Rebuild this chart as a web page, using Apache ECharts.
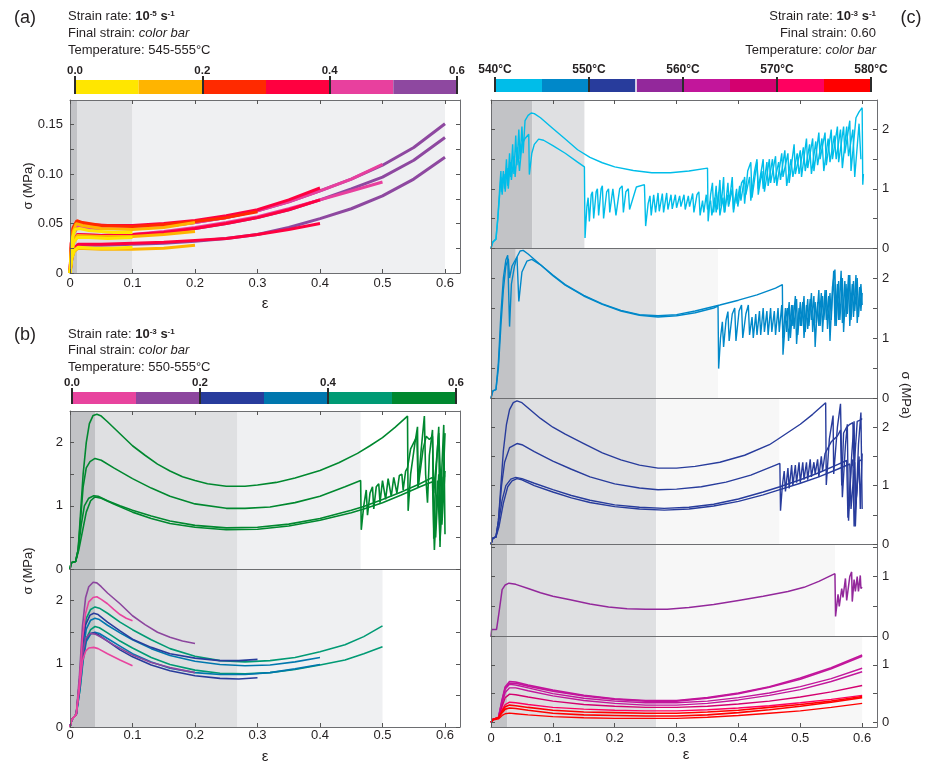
<!DOCTYPE html>
<html><head><meta charset="utf-8">
<script src="https://cdn.jsdelivr.net/npm/echarts/dist/echarts.min.js"></script>
<style>html,body{margin:0;padding:0;background:#fff}#c{width:932px;height:763px}</style>
</head><body><div id="c"></div>
<script>
// ---------------- DATA ----------------
const xTicks = [0,0.1,0.2,0.3,0.4,0.5,0.6];
const yTicksA = [0,0.025,0.05,0.075,0.1,0.125,0.15];
const yLabelsA = [0,0.05,0.1,0.15];
const yTicks25 = [0,0.5,1,1.5,2];
const yLabels2 = [0,1,2];
const yTicks15 = [0,0.5,1,1.5];
const yTicks10 = [0,0.5,1];
const yLabels1 = [0,1];
const cbStrainTicks = [0,0.2,0.4,0.6];
const cbTempTicks = [540,550,560,570,580];
const cbStrainBounds = [0,0.1,0.2,0.3,0.4,0.5,0.6];
const cbTempBounds = [540,545,550,555,560,565,570,575,580];
const cbTempGaps = [555];

// shaded strain regimes (boundaries)
const shadeA = [0,0.012,0.1,0.6];
const shadeB1 = [0,0.04,0.268,0.465];
const shadeB2 = [0,0.04,0.268,0.5];
const shadeC1 = [0,0.067,0.151];
const shadeC2 = [0,0.04,0.267,0.367];
const shadeC3 = [0,0.04,0.267,0.466];
const shadeC4 = [0,0.026,0.267,0.556];
const shadeC5 = [0,0.026,0.267,0.6];

// Panel (a): strain rate 1e-5, final strains 0.1..0.6
const aY1 = [[0,0],[0.002,0.02],[0.004,0.035],[0.008,0.044],[0.015,0.045],[0.03,0.043],[0.05,0.042],[0.07,0.041],[0.1,0.041]];
const aY2 = [[0,0],[0.003,0.02],[0.006,0.031],[0.012,0.036],[0.03,0.036],[0.06,0.035],[0.1,0.036]];
const aY3 = [[0,0],[0.003,0.015],[0.007,0.023],[0.013,0.026],[0.04,0.025],[0.07,0.025],[0.1,0.026]];
const aO1 = [[0,0],[0.002,0.025],[0.005,0.042],[0.01,0.05],[0.02,0.048],[0.05,0.045],[0.1,0.044],[0.15,0.046],[0.2,0.051]];
const aO2 = [[0,0],[0.003,0.015],[0.007,0.022],[0.013,0.025],[0.05,0.024],[0.1,0.024],[0.15,0.025],[0.2,0.028]];
const aO3 = [[0,0],[0.003,0.022],[0.006,0.033],[0.012,0.038],[0.05,0.037],[0.1,0.037],[0.15,0.039],[0.2,0.042]];
const aR1 = [[0,0],[0.002,0.03],[0.005,0.046],[0.011,0.053],[0.02,0.051],[0.05,0.048],[0.1,0.047],[0.15,0.049],[0.2,0.052],[0.25,0.056],[0.3,0.062]];
const aC1 = [[0,0],[0.002,0.03],[0.005,0.045],[0.011,0.051],[0.03,0.049],[0.06,0.048],[0.1,0.048],[0.15,0.05],[0.2,0.053],[0.25,0.058],[0.3,0.064],[0.35,0.074],[0.4,0.086]];
const aC2 = [[0,0],[0.003,0.015],[0.007,0.025],[0.013,0.029],[0.05,0.029],[0.1,0.03],[0.15,0.031],[0.2,0.033],[0.25,0.035],[0.3,0.039],[0.35,0.044],[0.4,0.05]];
const aC3 = [[0,0],[0.003,0.02],[0.006,0.033],[0.012,0.039],[0.05,0.038],[0.1,0.039],[0.15,0.041],[0.2,0.045],[0.25,0.05],[0.3,0.056],[0.35,0.064],[0.4,0.074]];
const aP1 = [[0,0],[0.002,0.025],[0.005,0.04],[0.012,0.047],[0.05,0.045],[0.1,0.045],[0.15,0.047],[0.2,0.051],[0.25,0.056],[0.3,0.063],[0.35,0.072],[0.4,0.083],[0.45,0.095],[0.5,0.11]];
const aP2 = [[0,0],[0.003,0.02],[0.006,0.033],[0.012,0.039],[0.05,0.038],[0.1,0.039],[0.15,0.042],[0.2,0.046],[0.25,0.051],[0.3,0.057],[0.35,0.065],[0.4,0.074],[0.45,0.083],[0.5,0.092]];
const aU1 = [[0,0],[0.002,0.025],[0.005,0.04],[0.012,0.046],[0.05,0.045],[0.1,0.045],[0.15,0.047],[0.2,0.051],[0.25,0.056],[0.3,0.063],[0.35,0.072],[0.4,0.083],[0.45,0.095],[0.5,0.109],[0.55,0.127],[0.6,0.151]];
const aU2 = [[0,0],[0.003,0.02],[0.006,0.032],[0.012,0.038],[0.05,0.037],[0.1,0.038],[0.15,0.041],[0.2,0.045],[0.25,0.05],[0.3,0.056],[0.35,0.064],[0.4,0.074],[0.45,0.085],[0.5,0.097],[0.55,0.114],[0.6,0.137]];
const aU3 = [[0,0],[0.003,0.015],[0.007,0.024],[0.013,0.028],[0.05,0.028],[0.1,0.029],[0.15,0.03],[0.2,0.032],[0.25,0.035],[0.3,0.039],[0.35,0.046],[0.4,0.055],[0.45,0.065],[0.5,0.078],[0.55,0.095],[0.6,0.117]];

// Panel (b) upper: final strain 0.6
const bG1 = [[0,0],[0.002,0.1],[0.009,0.12],[0.013,0.3],[0.017,0.9],[0.021,1.5],[0.026,2.0],[0.031,2.3],[0.037,2.43],[0.043,2.45],[0.05,2.42],[0.06,2.33],[0.08,2.14],[0.1,1.95],[0.12,1.8],[0.14,1.66],[0.16,1.55],[0.18,1.46],[0.2,1.4],[0.22,1.35],[0.25,1.31],[0.28,1.31],[0.3,1.33],[0.33,1.37],[0.36,1.44],[0.4,1.56],[0.43,1.68],[0.46,1.83],[0.48,1.95],[0.5,2.08],[0.52,2.24],[0.54,2.42],[0.541,0.92],[0.545,1.5],[0.552,2.0],[0.556,2.25],[0.557,1.3],[0.562,1.9],[0.567,2.42],[0.569,1.5],[0.572,1.05],[0.575,1.8],[0.58,2.2],[0.582,0.48],[0.585,1.4],[0.59,2.25],[0.592,0.35],[0.595,1.6],[0.598,2.28],[0.6,0.55]];
const bG2 = [[0,0],[0.002,0.1],[0.009,0.12],[0.013,0.3],[0.017,0.8],[0.021,1.3],[0.026,1.6],[0.032,1.7],[0.04,1.75],[0.05,1.72],[0.07,1.6],[0.1,1.43],[0.13,1.28],[0.16,1.15],[0.2,1.03],[0.25,0.96],[0.28,0.96],[0.32,0.98],[0.36,1.05],[0.4,1.15],[0.44,1.3],[0.465,1.4],[0.466,0.62],[0.47,1.0],[0.474,1.25],[0.476,0.85],[0.48,1.2],[0.484,1.3],[0.486,0.95],[0.49,1.3],[0.494,1.35],[0.496,1.05],[0.5,1.4],[0.503,1.43],[0.505,1.1],[0.509,1.43],[0.512,1.45],[0.514,1.15],[0.518,1.45],[0.521,1.46],[0.523,1.2],[0.527,1.48],[0.531,1.5],[0.533,1.25],[0.537,1.55],[0.54,1.6],[0.545,1.9],[0.55,2.0],[0.555,2.1],[0.557,1.3],[0.565,1.9],[0.57,2.1],[0.575,2.05],[0.58,2.1],[0.582,1.2],[0.59,2.15],[0.595,0.9],[0.6,2.15]];
const bG3 = [[0,0],[0.002,0.1],[0.009,0.12],[0.013,0.3],[0.018,0.7],[0.023,1.0],[0.03,1.12],[0.038,1.16],[0.045,1.15],[0.06,1.08],[0.08,1.0],[0.1,0.93],[0.13,0.84],[0.16,0.76],[0.2,0.69],[0.25,0.65],[0.3,0.66],[0.35,0.71],[0.4,0.8],[0.45,0.93],[0.47,0.99],[0.5,1.1],[0.53,1.22],[0.56,1.35],[0.58,1.45],[0.585,0.5],[0.59,1.5],[0.595,0.7],[0.6,1.55]];
const bG4 = [[0,0],[0.002,0.1],[0.009,0.12],[0.014,0.3],[0.02,0.6],[0.026,0.9],[0.033,1.08],[0.04,1.14],[0.05,1.12],[0.07,1.03],[0.1,0.9],[0.13,0.8],[0.16,0.72],[0.2,0.66],[0.25,0.62],[0.3,0.63],[0.35,0.68],[0.4,0.77],[0.45,0.89],[0.47,0.95],[0.5,1.05],[0.53,1.17],[0.56,1.3],[0.58,1.38],[0.583,0.3],[0.588,1.4],[0.592,0.45],[0.597,1.45],[0.6,1.48]];

// Panel (b) lower: final strains 0.1..0.5
const bPink1 = [[0,0],[0.003,0.12],[0.01,0.2],[0.015,0.7],[0.02,1.4],[0.025,1.8],[0.03,1.98],[0.037,2.05],[0.043,2.06],[0.05,2.02],[0.06,1.95],[0.07,1.86],[0.08,1.78],[0.09,1.72],[0.1,1.68]];
const bPink2 = [[0,0],[0.003,0.12],[0.01,0.2],[0.015,0.6],[0.02,1.05],[0.025,1.2],[0.03,1.25],[0.038,1.26],[0.045,1.24],[0.06,1.16],[0.08,1.06],[0.1,0.97]];
const bPurp1 = [[0,0],[0.003,0.12],[0.01,0.2],[0.015,0.8],[0.02,1.6],[0.025,2.05],[0.03,2.22],[0.037,2.29],[0.043,2.28],[0.05,2.22],[0.06,2.12],[0.08,1.95],[0.1,1.76],[0.12,1.62],[0.14,1.5],[0.16,1.42],[0.18,1.36],[0.2,1.32]];
const bPurp2 = [[0,0],[0.003,0.12],[0.01,0.2],[0.015,0.65],[0.02,1.15],[0.025,1.4],[0.032,1.48],[0.04,1.47],[0.05,1.42],[0.07,1.3],[0.1,1.14],[0.13,1.02],[0.16,0.94],[0.2,0.86]];
const bNavy1 = [[0,0],[0.003,0.12],[0.01,0.2],[0.015,0.7],[0.02,1.3],[0.025,1.62],[0.032,1.77],[0.038,1.8],[0.045,1.78],[0.06,1.66],[0.08,1.52],[0.1,1.39],[0.13,1.26],[0.16,1.16],[0.2,1.09],[0.24,1.05],[0.27,1.05],[0.3,1.07]];
const bNavy2 = [[0,0],[0.003,0.12],[0.01,0.2],[0.015,0.6],[0.02,1.1],[0.025,1.38],[0.032,1.48],[0.038,1.49],[0.045,1.46],[0.06,1.36],[0.08,1.22],[0.1,1.11],[0.13,0.98],[0.16,0.89],[0.2,0.81],[0.24,0.77],[0.27,0.76],[0.3,0.78]];
const bBlue1 = [[0,0],[0.003,0.12],[0.01,0.2],[0.016,0.7],[0.021,1.2],[0.026,1.55],[0.033,1.69],[0.04,1.72],[0.047,1.7],[0.06,1.61],[0.08,1.49],[0.1,1.38],[0.13,1.24],[0.16,1.13],[0.2,1.04],[0.24,0.99],[0.28,0.97],[0.32,0.98],[0.36,1.03],[0.4,1.1]];
const bBlue2 = [[0,0],[0.003,0.12],[0.01,0.2],[0.016,0.6],[0.021,1.05],[0.026,1.35],[0.033,1.47],[0.04,1.5],[0.047,1.48],[0.06,1.4],[0.08,1.28],[0.1,1.16],[0.13,1.03],[0.16,0.93],[0.2,0.86],[0.24,0.83],[0.28,0.83],[0.32,0.86],[0.36,0.92],[0.4,0.99]];
const bTeal1 = [[0,0],[0.003,0.12],[0.01,0.2],[0.016,0.8],[0.021,1.4],[0.026,1.72],[0.033,1.86],[0.04,1.9],[0.047,1.88],[0.06,1.8],[0.08,1.66],[0.1,1.54],[0.13,1.38],[0.16,1.24],[0.2,1.12],[0.24,1.05],[0.28,1.03],[0.32,1.05],[0.36,1.1],[0.4,1.19],[0.44,1.3],[0.47,1.43],[0.5,1.6]];
const bTeal2 = [[0,0],[0.003,0.12],[0.01,0.2],[0.016,0.6],[0.021,1.1],[0.026,1.4],[0.033,1.54],[0.04,1.59],[0.047,1.57],[0.06,1.49],[0.08,1.36],[0.1,1.25],[0.13,1.1],[0.16,0.99],[0.2,0.9],[0.24,0.85],[0.28,0.84],[0.32,0.86],[0.36,0.91],[0.4,0.98],[0.44,1.06],[0.47,1.16],[0.5,1.27]];

// Panel (c): final strain 0.6, temperatures 540..580
const c1A = [[0,0],[0.003,0.1],[0.008,0.15],[0.011,0.5],[0.014,1.0],[0.016,1.3],[0.017,0.95],[0.02,1.3],[0.022,1.0],[0.025,1.5],[0.027,1.05],[0.03,1.6],[0.032,1.2],[0.035,1.75],[0.037,1.25],[0.04,1.9],[0.042,1.4],[0.045,2.0],[0.047,1.5],[0.05,2.05],[0.052,1.6],[0.055,2.15],[0.06,2.24],[0.065,2.28],[0.07,2.27],[0.08,2.2],[0.1,2.02],[0.12,1.84],[0.14,1.66],[0.16,1.53],[0.18,1.44],[0.2,1.37],[0.23,1.31],[0.26,1.27],[0.29,1.27],[0.32,1.3],[0.35,1.35],[0.351,0.45],[0.355,0.9],[0.358,1.1],[0.36,0.6],[0.364,1.05],[0.366,0.65],[0.37,1.15],[0.372,0.7],[0.376,1.2],[0.378,0.6],[0.383,1.1],[0.385,0.75],[0.39,1.2],[0.392,0.65],[0.397,1.0],[0.399,0.7],[0.405,1.1],[0.408,1.15],[0.41,0.75],[0.415,1.3],[0.42,1.45],[0.422,0.85],[0.43,1.45],[0.432,1.0],[0.44,1.5],[0.442,0.95],[0.45,1.5],[0.452,1.1],[0.46,1.55],[0.462,1.05],[0.47,1.6],[0.472,1.2],[0.48,1.6],[0.482,1.1],[0.49,1.75],[0.492,1.25],[0.5,1.65],[0.502,1.2],[0.51,1.85],[0.512,1.35],[0.52,1.85],[0.522,1.3],[0.53,1.95],[0.532,1.5],[0.54,1.95],[0.542,1.4],[0.55,2.0],[0.552,1.5],[0.56,2.05],[0.562,1.45],[0.57,2.05],[0.572,1.6],[0.58,2.15],[0.582,1.3],[0.59,2.2],[0.595,2.3],[0.6,2.37],[0.601,1.07],[0.602,1.25]];
const c1B = [[0,0],[0.003,0.1],[0.008,0.15],[0.011,0.5],[0.014,0.9],[0.016,1.2],[0.018,0.9],[0.021,1.25],[0.023,0.95],[0.026,1.35],[0.028,1.0],[0.031,1.45],[0.033,1.15],[0.037,1.55],[0.039,1.2],[0.043,1.7],[0.046,1.3],[0.05,1.75],[0.055,1.85],[0.061,1.92],[0.062,1.24],[0.066,1.6],[0.07,1.75],[0.077,1.84],[0.085,1.82],[0.1,1.73],[0.12,1.6],[0.14,1.45],[0.151,1.37],[0.152,0.17],[0.155,0.7],[0.157,0.85],[0.159,0.45],[0.162,0.9],[0.164,0.95],[0.166,0.5],[0.17,0.95],[0.172,1.0],[0.174,0.55],[0.178,1.0],[0.18,1.05],[0.182,0.5],[0.187,0.95],[0.19,1.0],[0.192,0.6],[0.197,1.0],[0.2,1.02],[0.202,0.55],[0.208,1.0],[0.212,1.05],[0.214,0.6],[0.218,0.95],[0.222,1.0],[0.224,0.65],[0.235,1.03],[0.248,1.07],[0.25,0.37],[0.254,0.75],[0.257,0.88],[0.259,0.55],[0.263,0.9],[0.266,0.6],[0.27,0.93],[0.272,0.62],[0.277,0.92],[0.279,0.6],[0.284,0.93],[0.286,0.65],[0.291,0.9],[0.293,0.66],[0.298,0.9],[0.3,0.68],[0.305,0.88],[0.307,0.7],[0.312,0.9],[0.314,0.65],[0.319,0.88],[0.321,0.7],[0.326,0.92],[0.328,0.6],[0.333,0.9],[0.336,0.95],[0.338,0.55],[0.342,0.8],[0.344,0.6],[0.348,0.9],[0.35,0.65],[0.355,0.8],[0.357,0.55],[0.362,0.85],[0.364,0.6],[0.368,0.95],[0.37,0.55],[0.375,0.85],[0.377,0.6],[0.382,0.9],[0.384,0.7],[0.39,1.0],[0.392,0.6],[0.396,0.9],[0.398,0.75],[0.402,1.05],[0.404,0.8],[0.41,1.2],[0.412,0.9],[0.418,1.2],[0.42,0.8],[0.426,1.3],[0.43,1.5],[0.432,0.9],[0.438,1.3],[0.44,1.0],[0.446,1.45],[0.448,1.05],[0.455,1.5],[0.458,1.1],[0.465,1.45],[0.468,1.15],[0.475,1.65],[0.478,1.05],[0.485,1.5],[0.488,1.2],[0.495,1.6],[0.498,1.25],[0.505,1.7],[0.508,1.3],[0.515,1.75],[0.518,1.25],[0.525,1.8],[0.528,1.4],[0.535,1.85],[0.538,1.3],[0.545,1.85],[0.548,1.45],[0.555,1.9],[0.558,1.5],[0.565,2.0],[0.568,1.35],[0.575,2.05],[0.578,1.55],[0.585,2.0],[0.588,1.2],[0.595,2.1],[0.598,1.5]];
const c2A = [[0,0],[0.003,0.12],[0.008,0.14],[0.012,0.6],[0.016,1.4],[0.02,2.0],[0.024,2.3],[0.027,2.38],[0.03,1.19],[0.033,1.9],[0.038,2.2],[0.042,2.35],[0.047,2.45],[0.052,2.46],[0.06,2.4],[0.08,2.22],[0.1,2.04],[0.12,1.88],[0.15,1.7],[0.18,1.56],[0.21,1.45],[0.24,1.38],[0.27,1.35],[0.3,1.37],[0.33,1.42],[0.36,1.5],[0.367,1.53],[0.368,0.49],[0.371,1.0],[0.374,1.27],[0.376,0.85],[0.38,1.3],[0.383,1.44],[0.385,0.95],[0.39,1.4],[0.394,1.5],[0.396,0.95],[0.401,1.45],[0.405,1.55],[0.407,1.0],[0.412,1.4],[0.416,1.55],[0.418,1.05],[0.422,1.35],[0.424,1.0],[0.428,1.4],[0.43,1.05],[0.434,1.45],[0.436,1.05],[0.44,1.5],[0.442,1.1],[0.446,1.45],[0.448,1.05],[0.452,1.5],[0.454,1.1],[0.458,1.45],[0.46,1.05],[0.464,1.5],[0.466,1.1],[0.47,1.55],[0.472,1.0],[0.476,1.5],[0.478,1.1],[0.482,1.6],[0.484,1.0],[0.488,1.55],[0.49,1.15],[0.494,1.65],[0.496,1.05],[0.5,1.6],[0.502,1.2],[0.506,1.7],[0.508,1.1],[0.512,1.65],[0.514,1.2],[0.518,1.75],[0.52,1.1],[0.524,1.6],[0.526,1.25],[0.53,1.8],[0.532,1.2],[0.536,1.7],[0.538,1.3],[0.542,1.8],[0.544,1.15],[0.548,1.75],[0.55,1.3],[0.554,2.12],[0.556,1.2],[0.56,1.9],[0.562,1.3],[0.566,2.12],[0.568,1.25],[0.572,1.95],[0.574,1.35],[0.578,2.05],[0.58,1.2],[0.584,1.9],[0.586,1.35],[0.59,2.05],[0.592,1.25],[0.596,1.85],[0.598,1.45],[0.6,1.75]];
const c2B = [[0,0],[0.003,0.12],[0.008,0.14],[0.012,0.5],[0.016,1.2],[0.02,1.8],[0.024,2.2],[0.028,2.32],[0.03,2.0],[0.034,2.2],[0.042,2.35],[0.045,1.61],[0.05,2.1],[0.058,2.28],[0.066,2.31],[0.08,2.22],[0.1,2.05],[0.12,1.89],[0.15,1.71],[0.18,1.57],[0.21,1.46],[0.24,1.39],[0.27,1.37],[0.3,1.39],[0.33,1.45],[0.37,1.55],[0.4,1.63],[0.43,1.72],[0.46,1.83],[0.471,1.89],[0.472,0.72],[0.476,1.3],[0.479,1.5],[0.481,0.95],[0.486,1.55],[0.488,1.2],[0.492,1.7],[0.494,0.9],[0.498,1.5],[0.5,1.2],[0.504,1.6],[0.506,1.0],[0.51,1.55],[0.512,1.15],[0.516,1.65],[0.518,1.3],[0.522,1.7],[0.524,0.85],[0.528,1.6],[0.53,1.2],[0.534,1.75],[0.536,1.1],[0.54,1.8],[0.542,1.3],[0.546,1.7],[0.548,0.95],[0.552,1.85],[0.556,2.14],[0.558,1.2],[0.562,1.95],[0.564,1.3],[0.568,2.0],[0.57,1.1],[0.574,1.9],[0.576,1.4],[0.58,2.05],[0.582,1.3],[0.586,1.95],[0.588,1.45],[0.592,2.0],[0.594,1.35],[0.598,1.9],[0.6,1.55]];
const c3A = [[0,0],[0.003,0.1],[0.008,0.12],[0.012,0.4],[0.016,1.0],[0.02,1.6],[0.025,2.05],[0.03,2.3],[0.036,2.42],[0.042,2.45],[0.05,2.42],[0.06,2.33],[0.08,2.15],[0.1,2.0],[0.12,1.88],[0.15,1.72],[0.18,1.56],[0.21,1.44],[0.24,1.35],[0.27,1.3],[0.3,1.3],[0.33,1.33],[0.37,1.4],[0.41,1.52],[0.45,1.7],[0.463,1.79],[0.5,2.05],[0.52,2.22],[0.541,2.42],[0.542,1.01],[0.547,1.8],[0.553,2.2],[0.554,1.2],[0.56,2.0],[0.565,2.4],[0.568,0.8],[0.573,1.7],[0.576,2.05],[0.578,0.4],[0.583,1.5],[0.587,2.1],[0.589,0.3],[0.594,1.7],[0.598,2.25],[0.6,0.6]];
const c3B = [[0,0],[0.003,0.1],[0.008,0.12],[0.012,0.4],[0.017,1.0],[0.022,1.4],[0.03,1.65],[0.042,1.72],[0.05,1.7],[0.07,1.58],[0.1,1.42],[0.13,1.28],[0.16,1.15],[0.2,1.03],[0.24,0.96],[0.27,0.93],[0.3,0.94],[0.34,0.98],[0.38,1.06],[0.42,1.18],[0.467,1.38],[0.468,0.57],[0.471,1.0],[0.474,1.25],[0.476,0.9],[0.48,1.3],[0.482,0.95],[0.486,1.35],[0.488,1.0],[0.492,1.35],[0.494,1.05],[0.498,1.4],[0.5,1.05],[0.504,1.4],[0.506,1.1],[0.51,1.4],[0.512,1.1],[0.516,1.45],[0.518,1.15],[0.522,1.4],[0.524,1.2],[0.528,1.45],[0.53,1.15],[0.534,1.5],[0.536,1.25],[0.54,1.55],[0.545,1.65],[0.55,1.75],[0.555,1.8],[0.56,1.85],[0.565,1.95],[0.567,1.0],[0.57,1.9],[0.575,2.0],[0.58,2.05],[0.585,2.08],[0.587,1.3],[0.592,2.1],[0.597,2.12],[0.6,2.15]];
const c3C = [[0,0],[0.003,0.1],[0.008,0.12],[0.012,0.35],[0.018,0.75],[0.024,1.0],[0.032,1.11],[0.04,1.14],[0.05,1.12],[0.07,1.04],[0.1,0.93],[0.13,0.83],[0.16,0.75],[0.2,0.67],[0.24,0.63],[0.28,0.61],[0.32,0.63],[0.36,0.68],[0.4,0.77],[0.44,0.89],[0.467,0.98],[0.5,1.1],[0.53,1.22],[0.56,1.36],[0.575,1.43],[0.577,0.45],[0.582,1.3],[0.585,1.45],[0.587,0.3],[0.592,1.0],[0.595,1.5],[0.597,0.6],[0.6,1.55]];
const c3D = [[0,0],[0.003,0.1],[0.008,0.12],[0.013,0.3],[0.02,0.7],[0.027,0.98],[0.034,1.08],[0.042,1.12],[0.05,1.1],[0.07,1.0],[0.1,0.89],[0.13,0.79],[0.16,0.71],[0.2,0.64],[0.24,0.6],[0.28,0.58],[0.32,0.6],[0.36,0.65],[0.4,0.73],[0.44,0.84],[0.467,0.93],[0.5,1.04],[0.53,1.15],[0.56,1.28],[0.58,1.37],[0.582,0.6],[0.588,1.4],[0.59,0.7],[0.595,1.42],[0.6,1.45]];
const c4A = [[0,0],[0.001,0.11],[0.009,0.11],[0.013,0.4],[0.018,0.78],[0.023,0.86],[0.029,0.89],[0.04,0.87],[0.06,0.8],[0.08,0.73],[0.1,0.67],[0.128,0.61],[0.16,0.54],[0.19,0.49],[0.22,0.46],[0.25,0.45],[0.285,0.45],[0.32,0.48],[0.36,0.53],[0.4,0.6],[0.44,0.67],[0.48,0.75],[0.506,0.82],[0.53,0.92],[0.556,1.05],[0.557,0.33],[0.561,0.7],[0.563,0.5],[0.567,0.8],[0.569,0.65],[0.573,0.97],[0.575,0.6],[0.58,1.0],[0.583,1.08],[0.584,0.58],[0.587,0.95],[0.589,0.75],[0.592,1.0],[0.594,0.75],[0.597,1.02],[0.598,0.8],[0.6,0.82]];
const c5M1 = [[0,0],[0.003,0.05],[0.012,0.08],[0.018,0.4],[0.023,0.62],[0.03,0.71],[0.04,0.7],[0.06,0.65],[0.1,0.56],[0.15,0.47],[0.2,0.41],[0.25,0.38],[0.3,0.38],[0.35,0.43],[0.4,0.51],[0.45,0.62],[0.5,0.77],[0.55,0.95],[0.6,1.17]];
const c5M2 = [[0,0],[0.003,0.05],[0.012,0.08],[0.018,0.38],[0.023,0.6],[0.03,0.68],[0.04,0.68],[0.06,0.63],[0.1,0.54],[0.15,0.46],[0.2,0.4],[0.25,0.37],[0.3,0.37],[0.35,0.42],[0.4,0.5],[0.45,0.61],[0.5,0.75],[0.55,0.93],[0.6,1.15]];
const c5M3 = [[0,0],[0.003,0.05],[0.012,0.08],[0.018,0.36],[0.023,0.58],[0.03,0.66],[0.04,0.65],[0.06,0.6],[0.1,0.5],[0.15,0.42],[0.2,0.37],[0.25,0.34],[0.3,0.34],[0.35,0.37],[0.4,0.43],[0.45,0.51],[0.5,0.62],[0.55,0.76],[0.6,0.94]];
const c5M4 = [[0,0],[0.003,0.05],[0.012,0.08],[0.018,0.33],[0.023,0.52],[0.03,0.6],[0.04,0.6],[0.06,0.55],[0.1,0.46],[0.15,0.38],[0.2,0.33],[0.25,0.3],[0.3,0.3],[0.35,0.33],[0.4,0.39],[0.45,0.47],[0.5,0.57],[0.55,0.71],[0.6,0.88]];
const c5P1 = [[0,0],[0.003,0.05],[0.012,0.08],[0.018,0.28],[0.023,0.43],[0.03,0.49],[0.04,0.48],[0.06,0.44],[0.1,0.37],[0.15,0.31],[0.2,0.28],[0.25,0.26],[0.3,0.26],[0.35,0.28],[0.4,0.32],[0.45,0.37],[0.5,0.44],[0.55,0.53],[0.6,0.64]];
const c5R1 = [[0,0],[0.003,0.05],[0.012,0.08],[0.018,0.22],[0.023,0.31],[0.03,0.35],[0.04,0.34],[0.06,0.31],[0.1,0.26],[0.15,0.23],[0.2,0.21],[0.25,0.2],[0.3,0.2],[0.35,0.22],[0.4,0.25],[0.45,0.29],[0.5,0.34],[0.55,0.4],[0.6,0.47]];
const c5R2 = [[0,0],[0.003,0.05],[0.012,0.08],[0.018,0.2],[0.023,0.27],[0.03,0.3],[0.04,0.29],[0.06,0.26],[0.1,0.21],[0.15,0.18],[0.2,0.17],[0.25,0.16],[0.3,0.16],[0.35,0.18],[0.4,0.21],[0.45,0.26],[0.5,0.31],[0.55,0.37],[0.6,0.45]];
const c5R3 = [[0,0],[0.003,0.05],[0.012,0.08],[0.018,0.17],[0.023,0.23],[0.03,0.25],[0.04,0.24],[0.06,0.21],[0.1,0.16],[0.15,0.13],[0.2,0.12],[0.25,0.11],[0.3,0.11],[0.35,0.13],[0.4,0.17],[0.45,0.22],[0.5,0.28],[0.55,0.35],[0.6,0.43]];
const c5R4 = [[0,0],[0.003,0.04],[0.012,0.06],[0.018,0.12],[0.023,0.15],[0.03,0.16],[0.04,0.15],[0.06,0.13],[0.1,0.1],[0.15,0.08],[0.2,0.07],[0.25,0.07],[0.3,0.07],[0.35,0.09],[0.4,0.12],[0.45,0.16],[0.5,0.2],[0.55,0.26],[0.6,0.33]];

// ---------------- STYLE ----------------
const FONT = '"Liberation Sans", Arial, Helvetica, sans-serif';
const TXT = '#231f20';
const AX = '#6d6e71';
const G_DARK = '#c2c3c6', G_MID = '#dfe0e2', G_LIGHT = '#eff0f2', G_VLIGHT = '#f7f7f7';
const colA = ['#ffe600','#ffb400','#ff2a00','#ff0040','#e8409e','#8e48a0'];
const colB = ['#e8449e','#8c469e','#283c9c','#0077ae','#009a74','#00882f'];
const colC = ['#00bde9','#0088c9','#283c9c','#93289b','#c2169b','#d4006f','#ff0060','#ff0000'];

const grids = [
  {left:70, top:100, width:390, height:173},   //0 a
  {left:70, top:411, width:390, height:158},   //1 b upper
  {left:70, top:569, width:390, height:158},   //2 b lower
  {left:491, top:100, width:386, height:148},  //3 c1
  {left:491, top:248, width:386, height:150},  //4 c2
  {left:491, top:398, width:386, height:146},  //5 c3
  {left:491, top:544, width:386, height:92},   //6 c4
  {left:491, top:636, width:386, height:91},   //7 c5
  {left:75, top:80, width:382, height:14},     //8 cb a
  {left:72, top:392, width:384, height:12},    //9 cb b
  {left:495, top:79, width:376, height:13}     //10 cb c
];

function fmtX(v){ return v === 0 ? '0' : v.toFixed(1); }
function fmtY(v){ if (v === 0) return '0'; return Number.isInteger(v) ? String(v) : v.toFixed(2); }

function mkX(gi, max, o){
  return [
    {type:'value', gridIndex:gi, min:0, max:max, position:'bottom', z:5,
     axisLine:{show:true, onZero:false, lineStyle:{color:o.lineColor||AX, width:1}},
     axisTick:{show:!!o.ticks, inside:true, length:4, customValues:xTicks, lineStyle:{color:'#555'}},
     axisLabel:{show:!!o.labels, customValues:xTicks, formatter:fmtX, margin:o.margin||3, fontSize:13, color:TXT, fontFamily:FONT},
     splitLine:{show:false}},
    {type:'value', gridIndex:gi, min:0, max:max, position:'top', z:5,
     axisLine:{show:true, onZero:false, lineStyle:{color:o.topColor||AX, width:1}},
     axisTick:{show:!!o.topTicks, inside:true, length:4, customValues:xTicks, lineStyle:{color:'#555'}},
     axisLabel:{show:false}, splitLine:{show:false}}
  ];
}
function mkY(gi, min, max, ticks, labels, side){
  return [
    {type:'value', gridIndex:gi, min:min, max:max, position:'left', z:5,
     axisLine:{show:true, onZero:false, lineStyle:{color:AX}},
     axisTick:{show:true, inside:true, length:4, customValues:ticks, lineStyle:{color:'#555'}},
     axisLabel:{show:side==='left', customValues:labels, formatter:fmtY, margin:7, fontSize:13, color:TXT, fontFamily:FONT},
     splitLine:{show:false}},
    {type:'value', gridIndex:gi, min:min, max:max, position:'right', z:5,
     axisLine:{show:true, onZero:false, lineStyle:{color:AX}},
     axisTick:{show:true, inside:true, length:4, customValues:ticks, lineStyle:{color:'#555'}},
     axisLabel:{show:side==='right', customValues:labels, formatter:fmtY, margin:5, fontSize:13, color:TXT, fontFamily:FONT},
     splitLine:{show:false}}
  ];
}
function cbX(gi, min, max, ticks, fmt, tickLen, fs){
  return [
    {type:'value', gridIndex:gi, min:min, max:max, position:'bottom', z:10,
     axisLine:{show:false}, axisLabel:{show:false}, splitLine:{show:false},
     axisTick:{show:true, inside:true, length:tickLen, customValues:ticks, lineStyle:{color:'#2b2b2b', width:2}}},
    {type:'value', gridIndex:gi, min:min, max:max, position:'top', z:10,
     axisLine:{show:false}, axisTick:{show:false}, splitLine:{show:false},
     axisLabel:{show:true, customValues:ticks, formatter:fmt, margin:3, fontSize:fs, fontWeight:'bold', color:TXT, fontFamily:FONT}}
  ];
}
function cbY(gi){
  return [0,1].map(k => ({type:'value', gridIndex:gi, min:0, max:1, show:false}));
}

const xmax = 0.624;
const xAxis = [].concat(
  mkX(0, xmax, {ticks:true, labels:true, topTicks:true, margin:4}),
  mkX(1, xmax, {topTicks:true, lineColor:'#111'}),
  mkX(2, xmax, {ticks:true, labels:true, margin:2}),
  mkX(3, xmax, {topTicks:true, lineColor:'#333'}),
  mkX(4, xmax, {lineColor:'#333'}),
  mkX(5, xmax, {lineColor:'#333'}),
  mkX(6, xmax, {lineColor:'#333'}),
  mkX(7, xmax, {ticks:true, labels:true, margin:5}),
  cbX(8, 0, 0.6, cbStrainTicks, v => v.toFixed(1), 18, 11.5),
  cbX(9, 0, 0.6, cbStrainTicks, v => v.toFixed(1), 16, 11.5),
  cbX(10, 540, 580, cbTempTicks, v => v + '°C', 15, 12)
);
const yAxis = [].concat(
  mkY(0, 0, 0.175, yTicksA, yLabelsA, 'left'),
  mkY(1, 0, 2.5, yTicks25, yLabels2, 'left'),
  mkY(2, 0, 2.5, yTicks25, yLabels2, 'left'),
  mkY(3, 0, 2.5, yTicks25, yLabels2, 'right'),
  mkY(4, 0, 2.5, yTicks25, yLabels2, 'right'),
  mkY(5, 0, 2.5, yTicks25, yLabels2, 'right'),
  mkY(6, 0, 1.55, yTicks15, yLabels1, 'right'),
  mkY(7, -0.08, 1.5, yTicks10, yLabels1, 'right'),
  cbY(8), cbY(9), cbY(10)
);

function shade(gi, bounds, colors){
  const data = [];
  for (let i = 0; i < bounds.length - 1; i++) {
    data.push([{xAxis:bounds[i], itemStyle:{color:colors[i], opacity:1}}, {xAxis:bounds[i+1]}]);
  }
  return {type:'line', xAxisIndex:2*gi, yAxisIndex:2*gi, data:[], silent:true, z:1, animation:false,
          markArea:{silent:true, label:{show:false}, data:data}};
}
function line(gi, data, color, width){
  return {type:'line', xAxisIndex:2*gi, yAxisIndex:2*gi, data:data, symbol:'none', showSymbol:false,
          silent:true, animation:false, z:3, lineStyle:{color:color, width:width}};
}

const series = [
  shade(0, shadeA, [G_DARK, G_MID, G_LIGHT]),
  shade(1, shadeB1, [G_DARK, G_MID, G_LIGHT]),
  shade(2, shadeB2, [G_DARK, G_MID, G_LIGHT]),
  shade(3, shadeC1, [G_DARK, G_MID]),
  shade(4, shadeC2, [G_DARK, G_MID, G_VLIGHT]),
  shade(5, shadeC3, [G_DARK, G_MID, G_VLIGHT]),
  shade(6, shadeC4, [G_DARK, G_MID, G_VLIGHT]),
  shade(7, shadeC5, [G_DARK, G_MID, G_VLIGHT]),
  shade(8, cbStrainBounds, colA),
  shade(9, cbStrainBounds, colB),
  shade(10, cbTempBounds, colC),
  {type:'line', xAxisIndex:20, yAxisIndex:20, data:[], silent:true, z:4, animation:false,
   markLine:{silent:true, symbol:'none', label:{show:false}, lineStyle:{color:'#fff', width:1.5, type:'solid'},
             data:cbTempGaps.map(v => ({xAxis:v}))}},
  // (a)
  line(0, aU1, colA[5], 3), line(0, aU2, colA[5], 3), line(0, aU3, colA[5], 3),
  line(0, aP1, colA[4], 3), line(0, aP2, colA[4], 3),
  line(0, aC1, colA[3], 3), line(0, aC2, colA[3], 3), line(0, aC3, colA[3], 3),
  line(0, aR1, colA[2], 3),
  line(0, aO1, colA[1], 3), line(0, aO2, colA[1], 3), line(0, aO3, colA[1], 3),
  line(0, aY1, colA[0], 3), line(0, aY2, colA[0], 3), line(0, aY3, colA[0], 3),
  // (b) upper
  line(1, bG1, colB[5], 1.6), line(1, bG2, colB[5], 1.6), line(1, bG3, colB[5], 1.6), line(1, bG4, colB[5], 1.6),
  // (b) lower
  line(2, bTeal1, colB[4], 1.6), line(2, bTeal2, colB[4], 1.6),
  line(2, bBlue1, colB[3], 1.6), line(2, bBlue2, colB[3], 1.6),
  line(2, bNavy1, colB[2], 1.6), line(2, bNavy2, colB[2], 1.6),
  line(2, bPurp1, colB[1], 1.6), line(2, bPurp2, colB[1], 1.6),
  line(2, bPink1, colB[0], 1.6), line(2, bPink2, colB[0], 1.6),
  // (c)
  line(3, c1A, colC[0], 1.4), line(3, c1B, colC[0], 1.4),
  line(4, c2A, colC[1], 1.4), line(4, c2B, colC[1], 1.4),
  line(5, c3A, colC[2], 1.4), line(5, c3B, colC[2], 1.4), line(5, c3C, colC[2], 1.4), line(5, c3D, colC[2], 1.4),
  line(6, c4A, colC[3], 1.5),
  line(7, c5M1, colC[4], 1.6), line(7, c5M2, colC[4], 1.6), line(7, c5M3, colC[4], 1.4), line(7, c5M4, colC[4], 1.4),
  line(7, c5P1, colC[5], 1.4), line(7, c5R1, colC[6], 1.4),
  line(7, c5R2, colC[7], 1.6), line(7, c5R3, colC[7], 1.6), line(7, c5R4, colC[7], 1.4)
];

const rich = {
  n:{fontSize:13, fontFamily:FONT, fill:TXT},
  b:{fontSize:13, fontFamily:FONT, fill:TXT, fontWeight:'bold'},
  s:{fontSize:8, fontFamily:FONT, fill:TXT, fontWeight:'bold', verticalAlign:'top', lineHeight:8},
  i:{fontSize:13, fontFamily:FONT, fill:TXT, fontStyle:'italic'}
};
function txt(x, y, text, align, extra){
  return Object.assign({type:'text', x:x, y:y, silent:true,
    style:{text:text, rich:rich, fontSize:13, fontFamily:FONT, fill:TXT, align:align||'left', verticalAlign:'middle'}}, extra||{});
}
function plain(x, y, text, size, rot){
  return {type:'text', x:x, y:y, rotation:rot||0, silent:true,
    style:{text:text, fontSize:size, fontFamily:FONT, fill:TXT, align:'center', verticalAlign:'middle'}};
}

const graphic = [
  plain(25, 18, '(a)', 18), plain(25, 335, '(b)', 18), plain(911, 18, '(c)', 18),
  txt(68, 16, '{n|Strain rate: }{b|10}{s|-5}{b| s}{s|-1}'),
  txt(68, 33, '{n|Final strain: }{i|color bar}'),
  txt(68, 50.5, '{n|Temperature: 545-555°C}'),
  txt(68, 334, '{n|Strain rate: }{b|10}{s|-3}{b| s}{s|-1}'),
  txt(68, 350.5, '{n|Final strain: }{i|color bar}'),
  txt(68, 367, '{n|Temperature: 550-555°C}'),
  txt(876, 16, '{n|Strain rate: }{b|10}{s|-3}{b| s}{s|-1}', 'right'),
  txt(876, 33, '{n|Final strain: 0.60}', 'right'),
  txt(876, 50.5, '{n|Temperature: }{i|color bar}', 'right'),
  plain(28, 186, 'σ (MPa)', 13, Math.PI/2),
  plain(28, 571, 'σ (MPa)', 13, Math.PI/2),
  plain(906, 395, 'σ (MPa)', 13, -Math.PI/2),
  plain(265, 304, 'ε', 15), plain(265, 757, 'ε', 15), plain(686, 755, 'ε', 15)
];

const chart = echarts.init(document.getElementById('c'), null, {renderer:'canvas', width:932, height:763});
chart.setOption({
  animation:false,
  backgroundColor:'#ffffff',
  textStyle:{fontFamily:FONT},
  grid:grids.map(g => Object.assign({containLabel:false}, g)),
  xAxis:xAxis,
  yAxis:yAxis,
  series:series,
  graphic:graphic
});
</script></body></html>
